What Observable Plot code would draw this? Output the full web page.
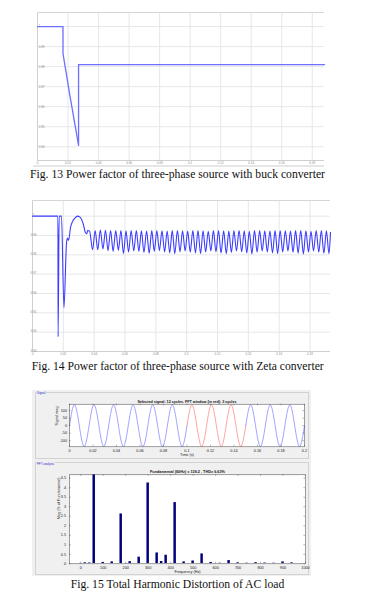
<!DOCTYPE html>
<html><head><meta charset="utf-8">
<script src="https://cdn.jsdelivr.net/npm/d3@7"></script>
<script src="https://cdn.jsdelivr.net/npm/@observablehq/plot@0.6"></script>
<style>
body{margin:0;background:#fff}
#page{position:relative;width:370px;height:598px;overflow:hidden;background:#fff}
#page svg{position:absolute}
</style></head>
<body><div id="page"></div>
<script>
// ---------- Fig. 13 data (power factor, buck converter) ----------
const pf13T = [0, 0.0167, 0.0167, 0.0214, 0.0269, 0.0269, 0.188];
const pf13V = [1, 1, 0.9865, 0.9648, 0.9407, 0.981, 0.981];
const pf13XTicks = [0, 0.02, 0.04, 0.06, 0.08, 0.1, 0.12, 0.14, 0.16, 0.18];
const pf13XLabels = ["0", "0.02", "0.04", "0.06", "0.08", "0.1", "0.12", "0.14", "0.16", "0.18"];
const pf13YTicks = [1, 0.99, 0.98, 0.97, 0.96, 0.95, 0.94];
const pf13YLabels = ["1", "0.99", "0.98", "0.97", "0.96", "0.95", "0.94"];

// ---------- Fig. 14 data (power factor, Zeta converter) ----------
const pf14StartT = [0, 0.0165, 0.0166, 0.0173, 0.0188, 0.0204, 0.0221, 0.0227, 0.0234, 0.0247, 0.0260, 0.0275, 0.0292, 0.0308, 0.0329, 0.0344, 0.0353, 0.0357, 0.0370];
const pf14StartV = [1, 1, 0.9376, 1, 1, 0.9526, 0.9866, 0.9887, 0.9875, 0.9943, 0.9973, 0.9990, 1.0, 0.9995, 0.9960, 0.9914, 0.9909, 0.9926, 0.9923];
const pf14RipT = [0.0390, 0.0423, 0.0457, 0.0490, 0.0523, 0.0557, 0.0590, 0.0623, 0.0657, 0.0690, 0.0723, 0.0757, 0.0790, 0.0823, 0.0857, 0.0890, 0.0923, 0.0957, 0.0990, 0.1023, 0.1057, 0.1090, 0.1123, 0.1157, 0.1190, 0.1223, 0.1257, 0.1290, 0.1323, 0.1357, 0.1390, 0.1423, 0.1457, 0.1490, 0.1523, 0.1557, 0.1590, 0.1623, 0.1657, 0.1690, 0.1723, 0.1757, 0.1790, 0.1823, 0.1857, 0.1890, 0.1923];
const pf14RipLo = [0.9827, 0.9826, 0.9830, 0.9822, 0.9818, 0.9824, 0.9806, 0.9815, 0.9820, 0.9818, 0.9812, 0.9808, 0.9818, 0.9822, 0.9815, 0.9810, 0.9806, 0.9816, 0.9820, 0.9814, 0.9810, 0.9806, 0.9815, 0.9820, 0.9816, 0.9810, 0.9806, 0.9812, 0.9820, 0.9816, 0.9810, 0.9805, 0.9814, 0.9820, 0.9815, 0.9810, 0.9806, 0.9815, 0.9820, 0.9814, 0.9809, 0.9805, 0.9815, 0.9820, 0.9814, 0.9808, 0.9806];
const pf14RipHi = [0.9926, 0.9928, 0.9927, 0.9926, 0.9925, 0.9926, 0.9924, 0.9925, 0.9926, 0.9924, 0.9923, 0.9925, 0.9926, 0.9924, 0.9923, 0.9925, 0.9926, 0.9924, 0.9923, 0.9925, 0.9926, 0.9924, 0.9922, 0.9925, 0.9926, 0.9924, 0.9923, 0.9925, 0.9926, 0.9924, 0.9922, 0.9925, 0.9926, 0.9924, 0.9923, 0.9925, 0.9926, 0.9924, 0.9923, 0.9925, 0.9926, 0.9924, 0.9922, 0.9925, 0.9926, 0.9924];
const pf14EndT = 0.1933, pf14EndV = 0.9916;
const pf14XTicks = [0, 0.02, 0.04, 0.06, 0.08, 0.1, 0.12, 0.14, 0.16, 0.18];
const pf14XLabels = ["0", "0.02", "0.04", "0.06", "0.08", "0.1", "0.12", "0.14", "0.16", "0.18"];
const pf14YTicks = [1, 0.99, 0.98, 0.97, 0.96, 0.95, 0.94, 0.93];
const pf14YLabels = ["1", "0.99", "0.98", "0.97", "0.96", "0.95", "0.94", "0.93"];

// ---------- Fig. 15 data (FFT analysis) ----------
const sigT = [0, 0.00417, 0.00833, 0.0125, 0.01667, 0.02083, 0.025, 0.02917, 0.03333, 0.0375, 0.04167, 0.04583, 0.05, 0.05417, 0.05833, 0.0625, 0.06667, 0.07083, 0.075, 0.07917, 0.08333, 0.0875, 0.09167, 0.09583, 0.1, 0.10417, 0.10833, 0.1125, 0.11667, 0.12083, 0.125, 0.12917, 0.13333, 0.1375, 0.14167, 0.14583, 0.15, 0.15417, 0.15833, 0.1625, 0.16667, 0.17083, 0.175, 0.17917, 0.18333, 0.1875, 0.19167, 0.19583, 0.2];
const sigV = [0, 140, 0, -139, 0, 139, 0, -139, 0, 139, 0, -139, 0, 139, 0, -139, 0, 139, 0, -139, 0, 139, 0, -139, 0, 139, 0, -139, 0, 139, 0, -139, 0, 139, 0, -139, 0, 139, 0, -139, 0, 139, 0, -139, 0, 139, 0, -139, 0];
const fftWindow = [0.1, 0.15];
const sigXTicks = [0, 0.02, 0.04, 0.06, 0.08, 0.1, 0.12, 0.14, 0.16, 0.18, 0.2];
const sigXLabels = ["0", "0.02", "0.04", "0.06", "0.08", "0.1", "0.12", "0.14", "0.16", "0.18", "0.2"];
const sigYTicks = [100, 50, 0, -50, -100];
const sigYLabels = ["100", "50", "0", "-50", "-100"];

const fftF = [0, 20, 40, 60, 100, 140, 180, 220, 260, 300, 340, 360, 380, 420, 460, 500, 540, 580, 620, 660, 700, 740, 780, 820, 860, 900, 940];
const fftM = [0.02, 0.05, 0.04, 100, 0.07, 0.1, 2.62, 0.11, 0.35, 4.25, 0.57, 0.12, 0.45, 3.22, 0.1, 0.15, 0.52, 0.07, 0.03, 0.17, 0.05, 0.03, 0.06, 0.04, 0.03, 0.1, 0.05];
const fftXTicks = [0, 100, 200, 300, 400, 500, 600, 700, 800, 900, 1000];
const fftXLabels = ["0", "100", "200", "300", "400", "500", "600", "700", "800", "900", "1000"];
const fftYTicks = [0, 0.5, 1, 1.5, 2, 2.5, 3, 3.5, 4, 4.5];
const fftYLabels = ["0", "0.5", "1", "1.5", "2", "2.5", "3", "3.5", "4", "4.5"];

const texts = {
  sigPanel: "Signal",
  fftPanel: "FFT analysis",
  sigTitle: "Selected signal: 12 cycles. FFT window (in red): 3 cycles",
  sigY: "Signal mag.",
  sigX: "Time (s)",
  fftTitle: "Fundamental (60Hz) = 139.2 , THD= 6.63%",
  fftY: "Mag (% of Fundamental)",
  fftX: "Frequency (Hz)"
};
const captions = [
  "Fig. 13 Power factor of three-phase source with buck converter",
  "Fig. 14 Power factor of three-phase source with Zeta converter",
  "Fig. 15 Total Harmonic Distortion of AC load"
];

// ---------- helpers ----------
const page = document.getElementById("page");
const SANS = "'Liberation Sans', Arial, sans-serif";
function put(svg, left, top) { svg.style.left = left + "px"; svg.style.top = top + "px"; page.appendChild(svg); }
function box(left, top, w, h, css) {
  const d = document.createElement("div");
  d.style.cssText = `position:absolute;left:${left}px;top:${top}px;width:${w}px;height:${h}px;box-sizing:border-box;${css}`;
  page.appendChild(d); return d;
}
const baseStyle = {background: "transparent", fontFamily: SANS, overflow: "visible"};
const rowsOf = (ticks, labels) => ticks.map((v, i) => ({v, label: labels[i]}));

// ---------- Fig. 13 ----------
const y13 = [0.93315, 1.007];
const fig13 = Plot.plot({
  width: 370, height: 170,
  marginLeft: 37, marginRight: 46, marginTop: 12, marginBottom: 10,
  style: baseStyle,
  x: {domain: [0, 0.188], axis: null},
  y: {domain: y13, axis: null},
  marks: [
    Plot.ruleX(pf13XTicks, {stroke: "#e4e4e4", strokeWidth: 0.9}),
    Plot.ruleY(pf13YTicks, {stroke: "#e4e4e4", strokeWidth: 0.9}),
    Plot.ruleX([0], {stroke: "#cfcfcf"}),
    Plot.ruleY([y13[1]], {stroke: "#d6d6d6"}),
    Plot.ruleY([y13[0]], {stroke: "#cfcfcf"}),
    Plot.line(pf13T.map((t, i) => ({t, v: pf13V[i]})), {x: "t", y: "v", stroke: "#6e6eff", strokeWidth: 1.3}),
    Plot.text(rowsOf(pf13YTicks, pf13YLabels), {x: 0, y: "v", text: "label", dx: 1.2, textAnchor: "start", fontSize: 3, fill: "#8a8a8a"}),
    Plot.text(rowsOf(pf13XTicks, pf13XLabels), {x: "v", y: y13[0], text: "label", dy: 2.6, fontSize: 3, fill: "#8a8a8a"})
  ]
});
put(fig13, 0, 0);
box(33, 165, 291, 1.6, "background:#e6e6e6");

// ---------- Fig. 14 ----------
const y14 = [0.93, 1.0081];
const pf14Rows = pf14StartT.map((t, i) => ({t, v: pf14StartV[i]}));
pf14RipT.forEach((t, i) => {
  pf14Rows.push({t, v: pf14RipLo[i]});
  if (i < pf14RipT.length - 1) pf14Rows.push({t: (t + pf14RipT[i + 1]) / 2, v: pf14RipHi[i]});
});
pf14Rows.push({t: pf14EndT, v: pf14EndV});
const fig14 = Plot.plot({
  width: 370, height: 165,
  marginLeft: 32, marginRight: 40, marginTop: 5, marginBottom: 9,
  style: baseStyle,
  x: {domain: [0, 0.1933], axis: null},
  y: {domain: y14, axis: null},
  marks: [
    Plot.ruleX(pf14XTicks, {stroke: "#e4e4e4", strokeWidth: 0.9}),
    Plot.ruleY(pf14YTicks, {stroke: "#e4e4e4", strokeWidth: 0.9}),
    Plot.ruleX([0], {stroke: "#cfcfcf"}),
    Plot.ruleY([y14[1]], {stroke: "#d6d6d6"}),
    Plot.ruleY([y14[0]], {stroke: "#cfcfcf"}),
    Plot.line(pf14Rows, {x: "t", y: "v", stroke: "#3c3cff", strokeWidth: 1.1, curve: "monotone-x"}),
    Plot.text(rowsOf(pf14YTicks, pf14YLabels), {x: 0, y: "v", text: "label", dx: 1, dy: -0.8, textAnchor: "middle", fontSize: 3, fill: "#8a8a8a"}),
    Plot.text(rowsOf(pf14XTicks, pf14XLabels), {x: "v", y: y14[0], text: "label", dy: 2.8, fontSize: 3, fill: "#8a8a8a"})
  ]
});
put(fig14, 0, 195);

// ---------- Fig. 15 panels ----------
box(32, 390, 279, 186, "background:#f0f0f0");
box(35, 391.5, 273.5, 67.5, "border:1px solid #d2d2d2");
box(35, 462, 273.5, 112.5, "border:1px solid #d2d2d2");
const lbl1 = box(36.5, 391, 30, 5, `font:3px ${SANS};color:#2a2ad0;background:#f0f0f0;width:auto;padding:0 0.5px;line-height:4px`);
lbl1.textContent = texts.sigPanel;
const lbl2 = box(36.5, 461.5, 30, 5, `font:3px ${SANS};color:#2a2ad0;background:#f0f0f0;width:auto;padding:0 0.5px;line-height:4px`);
lbl2.textContent = texts.fftPanel;

// Signal subplot
const sigRows = [];
sigT.forEach((t, i) => {
  const v = sigV[i], e = 1e-9;
  if (t <= fftWindow[0] + e) sigRows.push({t, v, seg: "pre"});
  if (t >= fftWindow[0] - e && t <= fftWindow[1] + e) sigRows.push({t, v, seg: "win"});
  if (t >= fftWindow[1] - e) sigRows.push({t, v, seg: "post"});
});
const sx = [0, 0.2], sy = [-141, 143];
const sW = 370 - 69 - 66, sH = 70 - 13.7 - 13.7;
const sxt = (sx[1] - sx[0]) * 1.6 / sW, syt = (sy[1] - sy[0]) * 1.6 / sH;
const sigPlot = Plot.plot({
  width: 370, height: 70,
  marginLeft: 69, marginRight: 66, marginTop: 13.7, marginBottom: 13.7,
  style: baseStyle,
  x: {domain: sx, axis: null},
  y: {domain: sy, axis: null},
  color: {domain: ["pre", "win", "post"], range: ["#8c8cff", "#ff8c8c", "#8c8cff"]},
  marks: [
    Plot.frame({fill: "white", stroke: null}),
    Plot.line(sigRows, {x: "t", y: "v", z: "seg", stroke: "seg", curve: "natural", strokeWidth: 0.8}),
    Plot.ruleX(sigXTicks, {y1: sy[0], y2: sy[0] + syt, stroke: "#444", strokeWidth: 0.4}),
    Plot.ruleX(sigXTicks, {y1: sy[1] - syt, y2: sy[1], stroke: "#444", strokeWidth: 0.4}),
    Plot.ruleY(sigYTicks, {x1: sx[0], x2: sx[0] + sxt, stroke: "#444", strokeWidth: 0.4}),
    Plot.ruleY(sigYTicks, {x1: sx[1] - sxt, x2: sx[1], stroke: "#444", strokeWidth: 0.4}),
    Plot.frame({stroke: "#404040", strokeWidth: 0.5}),
    Plot.text(rowsOf(sigXTicks, sigXLabels), {x: "v", y: sy[0], text: "label", dy: 4, fontSize: 3.8, fill: "#222"}),
    Plot.text(rowsOf(sigYTicks, sigYLabels), {x: sx[0], y: "v", text: "label", dx: -2.5, textAnchor: "end", fontSize: 3.8, fill: "#222"}),
    Plot.text([texts.sigTitle], {frameAnchor: "top", lineAnchor: "middle", dy: -2.4, fontSize: 3.7, fontWeight: "bold", fill: "#111"}),
    Plot.text([texts.sigX], {frameAnchor: "bottom", lineAnchor: "middle", dy: 8.4, fontSize: 3.8, fill: "#222"}),
    Plot.text([texts.sigY], {frameAnchor: "left", rotate: -90, dx: -13, fontSize: 3.8, fill: "#222"})
  ]
});
put(sigPlot, 0, 390);

// FFT subplot
const fx = [-50, 1000], fy = [0, 4.68];
const fW = 370 - 69 - 65, fH = 113 - 12.3 - 11.7;
const fxt = (fx[1] - fx[0]) * 1.6 / fW, fyt = (fy[1] - fy[0]) * 1.6 / fH;
const fftRows = fftF.map((f, i) => ({f, m: fftM[i]}));
const fftPlot = Plot.plot({
  width: 370, height: 113,
  marginLeft: 69, marginRight: 65, marginTop: 12.3, marginBottom: 11.7,
  style: baseStyle,
  x: {domain: fx, axis: null},
  y: {domain: fy, axis: null},
  marks: [
    Plot.frame({fill: "white", stroke: null}),
    Plot.rectY(fftRows, {x1: d => d.f - 5.5, x2: d => d.f + 5.5, y: "m", fill: "#00007c", clip: true}),
    Plot.ruleX(fftXTicks, {y1: fy[0], y2: fy[0] + fyt, stroke: "#444", strokeWidth: 0.4}),
    Plot.ruleX(fftXTicks, {y1: fy[1] - fyt, y2: fy[1], stroke: "#444", strokeWidth: 0.4}),
    Plot.ruleY(fftYTicks, {x1: fx[0], x2: fx[0] + fxt, stroke: "#444", strokeWidth: 0.4}),
    Plot.ruleY(fftYTicks, {x1: fx[1] - fxt, x2: fx[1], stroke: "#444", strokeWidth: 0.4}),
    Plot.frame({stroke: "#404040", strokeWidth: 0.5}),
    Plot.text(rowsOf(fftXTicks, fftXLabels), {x: "v", y: fy[0], text: "label", dy: 3.8, fontSize: 3.8, fill: "#222"}),
    Plot.text(rowsOf(fftYTicks, fftYLabels), {x: fx[0], y: "v", text: "label", dx: -3.5, textAnchor: "end", fontSize: 3.8, fill: "#222"}),
    Plot.text([texts.fftTitle], {frameAnchor: "top", lineAnchor: "middle", dy: -2.6, fontSize: 3.8, fontWeight: "bold", fill: "#111"}),
    Plot.text([texts.fftX], {frameAnchor: "bottom", lineAnchor: "middle", dy: 7.8, fontSize: 3.8, fill: "#222"}),
    Plot.text([texts.fftY], {frameAnchor: "left", rotate: -90, dx: -10.5, fontSize: 3.8, fill: "#222"})
  ]
});
put(fftPlot, 0, 462);

// ---------- captions ----------
const capLayout = [{x: 30, y: 178, w: 295}, {x: 31.7, y: 370, w: 292}, {x: 70.7, y: 588, w: 213.6}];
const cap = d3.create("svg").attr("width", 370).attr("height", 598)
  .style("left", "0px").style("top", "0px").style("pointer-events", "none");
captions.forEach((c, i) => {
  const L = capLayout[i];
  cap.append("text").attr("x", L.x).attr("y", L.y)
    .attr("textLength", L.w).attr("lengthAdjust", "spacingAndGlyphs")
    .attr("font-family", "'Liberation Serif', 'Times New Roman', serif")
    .attr("font-size", 12.5).attr("fill", "#111").text(c);
});
page.appendChild(cap.node());
</script>
</body></html>
